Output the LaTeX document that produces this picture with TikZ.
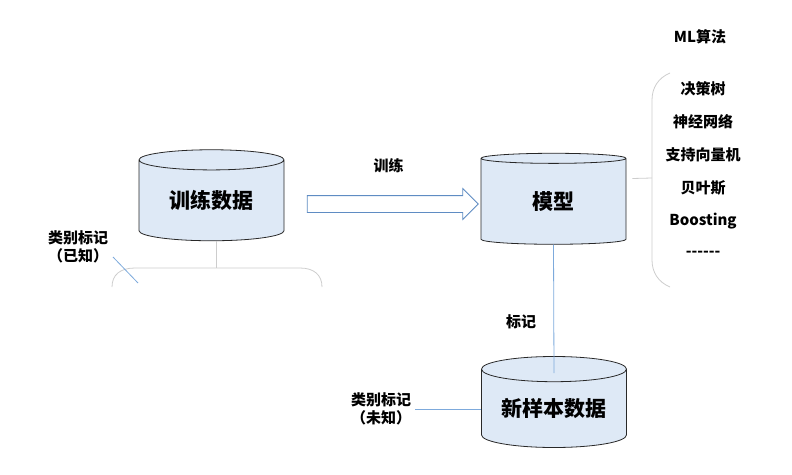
\documentclass[tikz,border=0pt]{standalone}
\usepackage{fontspec}
\setmainfont{Noto Sans CJK SC}
\usepackage{tikz}
\usetikzlibrary{shapes.geometric, shapes.arrows, positioning, calc}
\definecolor{store-fill}{RGB}{222,233,246}
\definecolor{store-edge}{RGB}{40,40,40}
\definecolor{link-blue}{RGB}{125,170,220}
\definecolor{arrow-blue}{RGB}{95,140,195}
\definecolor{brace-gray}{RGB}{205,205,205}

\begin{document}
\begin{tikzpicture}[
    x=1pt, y=-1pt,
    datastore/.style={cylinder, shape border rotate=90, aspect=0.24, draw=store-edge, thick,
        cylinder uses custom fill, cylinder body fill=store-fill, cylinder end fill=store-fill,
        minimum width=145pt, minimum height=91pt, inner sep=0pt,
        font=\fontsize{21}{24}\selectfont\bfseries},
    lbl/.style={font=\fontsize{15}{18}\selectfont\bfseries, align=center, inner sep=0pt},
    blockarrow/.style={single arrow, draw=arrow-blue, fill=white, thick, inner sep=8pt,
        minimum height=171pt, minimum width=30pt, single arrow head extend=7pt},
    bluelink/.style={draw=link-blue, thick},
    graylink/.style={draw=brace-gray, thick}
]
    \useasboundingbox (0,0) rectangle (792,474);

    % Datenspeicher
    \node[datastore] (train) at (211.5,200.5) {训练数据};
    \node[datastore] (model) at (553.5,201.5) {模型};
    \node[datastore] (newdata) at (554,408.5) {新样本数据};

    % Pfeil
    \node[blockarrow] (trainarrow) at (388.5,204) {};
    \node[lbl, above=22pt of trainarrow.north] (trainlbl) {训练};

    % Beschriftungen
    \node[lbl] (known) at (78,247) {类别标记\\（已知）};
    \node[lbl] (unknown) at (381,409) {类别标记\\（未知）};
    \node[lbl] (marklbl) at (521,322) {标记};

    % Algorithmen
    \node[lbl] (mlhead) at (700,37) {ML算法};
    \foreach \algo [count=\i from 0] in {决策树, 神经网络, 支持向量机, 贝叶斯, Boosting, {-}{-}{-}{-}{-}{-}}
        \node[lbl] (algo\i) at (703,89+33*\i) {\algo};

    % Klammern
    \coordinate (leftbrace) at (216,268);
    \coordinate (rightbrace) at (652,178);
    \draw[graylink] (112,287) .. controls (112,275) and (120,268) .. (135,268)
        -- (300,268) .. controls (314,268) and (322,275) .. (322,287);
    \draw[graylink] (670,73) .. controls (658,78) and (652,88) .. (652,100)
        -- (652,260) .. controls (652,272) and (658,282) .. (670,287);

    % Linien
    \draw[graylink] (train.south -| leftbrace) -- (leftbrace);
    \draw[graylink] ($(model.east)+(6,-23)$) -- (rightbrace);
    \draw[bluelink] (model.south) -- ($(newdata.north)+(0,17)$);
    \draw[bluelink] (unknown.east) ++(4,0) coordinate (ustart) -- (ustart -| newdata.west);
    \coordinate (kstart) at (113,257);
    \draw[bluelink] (kstart) -- (138,283);
\end{tikzpicture}
\end{document}
